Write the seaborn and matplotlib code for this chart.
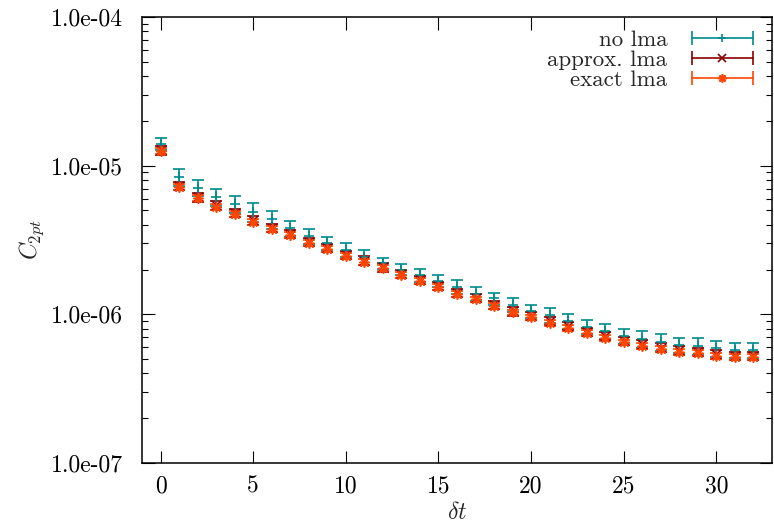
import numpy as np
import matplotlib
matplotlib.use("Agg")
import matplotlib.pyplot as plt
import seaborn as sns
from matplotlib.ticker import LogLocator, FixedLocator, FixedFormatter, NullFormatter
from matplotlib.legend_handler import HandlerBase
from matplotlib.lines import Line2D

# Euclidean time separations
dt = list(range(33))

# two-point correlator without low-mode averaging
c_nolma = [1.40e-5, 8.39e-6, 7.11e-6, 6.18e-6, 5.52e-6, 4.88e-6, 4.36e-6, 3.79e-6,
           3.38e-6, 3.02e-6, 2.71e-6, 2.43e-6, 2.21e-6, 2.00e-6, 1.84e-6, 1.68e-6,
           1.53e-6, 1.38e-6, 1.28e-6, 1.16e-6, 1.05e-6, 9.90e-7, 9.02e-7, 8.26e-7,
           7.72e-7, 7.15e-7, 6.83e-7, 6.54e-7, 6.22e-7, 6.12e-7, 5.91e-7, 5.75e-7,
           5.75e-7]
e_nolma = [1.29e-6, 1.11e-6, 9.0e-7, 8.2e-7, 7.0e-7, 7.0e-7, 6.2e-7, 4.7e-7,
           3.9e-7, 3.1e-7, 2.9e-7, 2.8e-7, 2.0e-7, 1.7e-7, 1.8e-7, 1.6e-7,
           1.7e-7, 1.5e-7, 1.2e-7, 1.3e-7, 1.1e-7, 1.1e-7, 1.0e-7, 9.0e-8,
           8.9e-8, 8.6e-8, 9.0e-8, 8.3e-8, 7.5e-8, 7.8e-8, 7.1e-8, 6.9e-8,
           6.9e-8]

# approximate low-mode averaging
c_approx = [1.27e-5, 7.30e-6, 6.12e-6, 5.40e-6, 4.81e-6, 4.28e-6, 3.81e-6, 3.47e-6,
            3.07e-6, 2.79e-6, 2.51e-6, 2.30e-6, 2.08e-6, 1.88e-6, 1.70e-6, 1.55e-6,
            1.40e-6, 1.29e-6, 1.16e-6, 1.05e-6, 9.74e-7, 9.02e-7, 8.35e-7, 7.61e-7,
            7.15e-7, 6.62e-7, 6.27e-7, 5.98e-7, 5.72e-7, 5.58e-7, 5.37e-7, 5.28e-7,
            5.28e-7]
e_approx = [8.3e-7, 4.7e-7, 4.0e-7, 3.5e-7, 3.1e-7, 2.8e-7, 2.5e-7, 2.3e-7,
            2.0e-7, 1.8e-7, 1.6e-7, 1.5e-7, 1.4e-7, 1.2e-7, 1.1e-7, 1.0e-7,
            9.1e-8, 8.4e-8, 7.5e-8, 6.8e-8, 6.3e-8, 5.9e-8, 5.4e-8, 4.9e-8,
            4.6e-8, 4.3e-8, 4.1e-8, 3.9e-8, 3.7e-8, 3.6e-8, 3.5e-8, 3.4e-8,
            3.4e-8]

# exact low-mode averaging
c_exact = [1.26e-5, 7.22e-6, 6.05e-6, 5.30e-6, 4.71e-6, 4.20e-6, 3.75e-6, 3.42e-6,
           3.04e-6, 2.74e-6, 2.47e-6, 2.26e-6, 2.04e-6, 1.84e-6, 1.68e-6, 1.52e-6,
           1.37e-6, 1.26e-6, 1.14e-6, 1.03e-6, 9.54e-7, 8.79e-7, 8.13e-7, 7.45e-7,
           6.97e-7, 6.48e-7, 6.12e-7, 5.85e-7, 5.58e-7, 5.47e-7, 5.25e-7, 5.19e-7,
           5.19e-7]
e_exact = [5.7e-7, 3.2e-7, 2.7e-7, 2.4e-7, 2.1e-7, 1.9e-7, 1.7e-7, 1.5e-7,
           1.4e-7, 1.2e-7, 1.1e-7, 1.0e-7, 9.2e-8, 8.3e-8, 7.6e-8, 6.8e-8,
           6.2e-8, 5.7e-8, 5.1e-8, 4.6e-8, 4.3e-8, 4.0e-8, 3.7e-8, 3.4e-8,
           3.1e-8, 2.9e-8, 2.8e-8, 2.6e-8, 2.5e-8, 2.5e-8, 2.4e-8, 2.3e-8,
           2.3e-8]

labels = ["no lma", "approx. lma", "exact lma"]
colors = ["#008b8b", "#8b0000", "#ff4500"]
markers = ["+", "x", (8, 2, 0)]

y_ticks = [1e-7, 1e-6, 1e-5, 1e-4]
y_ticklabels = ["1.0e-07", "1.0e-06", "1.0e-05", "1.0e-04"]
x_ticks = [0, 5, 10, 15, 20, 25, 30]

sns.set_theme(style="ticks")
plt.rcParams["font.family"] = ["cmr10", "DejaVu Serif"]
plt.rcParams["mathtext.fontset"] = "cm"
plt.rcParams["axes.unicode_minus"] = False

fig = plt.figure(figsize=(7.74, 5.24), dpi=100)
ax = fig.add_axes([142 / 774, 1 - 463 / 524, 630 / 774, 446 / 524])

series = [(c_nolma, e_nolma), (c_approx, e_approx), (c_exact, e_exact)]
handles = []
for (c, e), lab, col, mk in zip(series, labels, colors, markers):
    ax.errorbar(dt, c, yerr=e, fmt="none", ecolor=col, elinewidth=1.2,
                capsize=4.5, capthick=1.2, zorder=2)
    sns.scatterplot(x=dt, y=c, ax=ax, marker=mk, color=col, s=45,
                    linewidth=1.2, legend=False, zorder=3)
    handles.append(Line2D([], [], color=col, marker=mk, label=lab))


class BarWithSymbol(HandlerBase):
    """Horizontal bar with end caps and the point symbol in the middle."""

    def create_artists(self, legend, orig_handle, xdescent, ydescent,
                       width, height, fontsize, trans):
        col = orig_handle.get_color()
        mk = orig_handle.get_marker()
        x0, x1 = -xdescent, width - xdescent
        yc = height / 2 - ydescent
        bar = Line2D([x0, x1], [yc, yc], color=col, lw=1.2, transform=trans)
        caps = Line2D([x0, x1], [yc, yc], color=col, ls="none", marker="|",
                      ms=10, mew=1.2, transform=trans)
        sym = Line2D([(x0 + x1) / 2], [yc], marker=mk, color=col, ms=6,
                     mew=1.2, ls="none", transform=trans)
        return [bar, caps, sym]


ax.set_yscale("log")
ax.set_xlim(-1, 33)
ax.set_ylim(1e-7, 1e-4)

ax.yaxis.set_major_locator(FixedLocator(y_ticks))
ax.yaxis.set_major_formatter(FixedFormatter(y_ticklabels))
ax.yaxis.set_minor_locator(LogLocator(base=10, subs=np.arange(2, 10)))
ax.yaxis.set_minor_formatter(NullFormatter())
ax.xaxis.set_major_locator(FixedLocator(x_ticks))
ax.set_xticklabels([str(v) for v in x_ticks])

ax.tick_params(which="both", direction="in", top=True, right=True,
               width=0.8, colors="black", labelsize=17)
ax.tick_params(which="major", length=9)
ax.tick_params(which="minor", length=4.5)
ax.tick_params(axis="y", pad=14)
ax.tick_params(axis="x", pad=9)

for sp in ax.spines.values():
    sp.set_linewidth(1.1)
    sp.set_color("black")

ax.set_xlabel(r"$\delta t$", fontsize=17, labelpad=3)
ax.set_ylabel(r"$C_{2pt}$", fontsize=17, labelpad=3)

handler = BarWithSymbol()
leg = ax.legend(handles=handles, labels=labels,
                handler_map={h: handler for h in handles},
                loc="upper right", bbox_to_anchor=(0.985, 0.992),
                frameon=False, fontsize=16.5, markerfirst=False,
                handlelength=2.7, handletextpad=1.05, labelspacing=0.0,
                borderaxespad=0.0, alignment="right")
for t in leg.get_texts():
    t.set_ha("right")

fig.savefig("out.png", dpi=100)
